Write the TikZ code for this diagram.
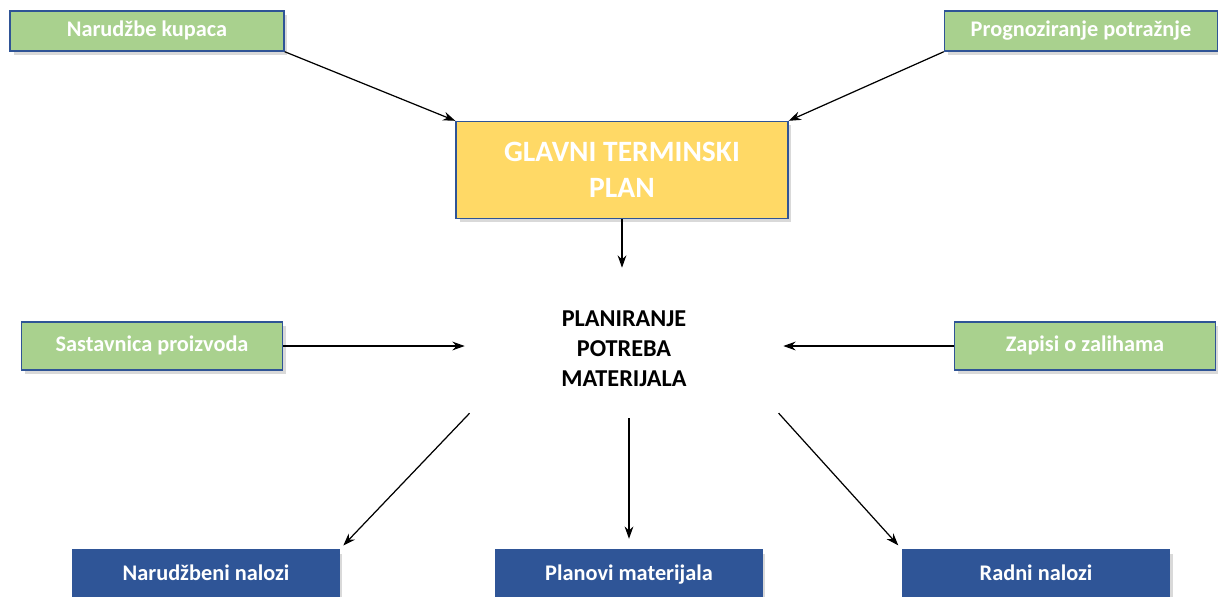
\documentclass[tikz,border=0pt]{standalone}
\usepackage{fontspec}
\setmainfont{Carlito}
\usetikzlibrary{positioning, arrows.meta, shadows}

\definecolor{ulaz}{HTML}{A9D18E}
\definecolor{plan}{HTML}{FFD966}
\definecolor{izlaz}{HTML}{2F5597}
\definecolor{rub}{HTML}{2F5496}

\begin{document}
\begin{tikzpicture}[x=0.02cm, y=-0.02cm,
        kutija/.style={draw=rub, line width=0.8pt, text=white, font=\bfseries\fontsize{12.7}{15}\selectfont,
            align=center, inner sep=0pt, text height=1.6ex, text depth=0.4ex,
            drop shadow={opacity=0.3, shadow xshift=2pt, shadow yshift=-2pt}},
        strelica/.style={-{Stealth[length=7pt, width=5pt]}, line width=0.7pt}]
                \useasboundingbox (0, 0) rectangle (1218, 596);

                \node[kutija, fill=ulaz, minimum width=5.48cm, minimum height=0.8cm] (NK) at (147, 31) {Narudžbe kupaca};
                \node[kutija, fill=ulaz, minimum width=5.46cm, minimum height=0.8cm] (PP) at (1081, 31) {Prognoziranje potražnje};
                \node[kutija, fill=plan, minimum width=6.64cm, minimum height=1.94cm, text height=, text depth=,
                    font=\bfseries\fontsize{16.8}{20.5}\selectfont] (GTP) at (622, 170) {GLAVNI TERMINSKI\\PLAN};
                \node[kutija, fill=ulaz, minimum width=5.22cm, minimum height=0.96cm] (SP) at (152, 346) {Sastavnica proizvoda};
                \node[kutija, fill=ulaz, minimum width=5.22cm, minimum height=0.96cm] (ZZ) at (1085, 346) {Zapisi o zalihama};
                \node[align=center, minimum width=6.36cm, minimum height=2.76cm, inner sep=0pt,
                    font=\bfseries\fontsize{13.8}{17}\selectfont] (MRP) at (624, 349) {PLANIRANJE\\POTREBA\\MATERIJALA};
                \node[kutija, draw=izlaz, fill=izlaz, minimum width=5.32cm, minimum height=1cm] (NN) at (206, 575) {Narudžbeni nalozi};
                \node[kutija, draw=izlaz, fill=izlaz, minimum width=5.32cm, minimum height=1cm] (PM) at (629, 575) {Planovi materijala};
                \node[kutija, draw=izlaz, fill=izlaz, minimum width=5.34cm, minimum height=1cm] (RN) at (1036, 575) {Radni nalozi};

                \draw[strelica] (NK.south east) -- (GTP.north west);
                \draw[strelica] (PP.south west) -- (GTP.north east);
                \draw[strelica, shorten >=0.24cm] (GTP.south) -- (GTP.south |- MRP.north);
                \draw[strelica] (SP.east) -- (SP.east -| MRP.west);
                \draw[strelica] (ZZ.west) -- (ZZ.west -| MRP.east);
                \draw[strelica, shorten <=-4pt, shorten >=3pt] (MRP.south west) -- (NN.north east);
                \draw[strelica, shorten >=6pt] (MRP.south -| PM.north) -- (PM.north);
                \draw[strelica, shorten <=-4pt, shorten >=3pt] (MRP.south east) -- (RN.north west);
            \end{tikzpicture}
\end{document}
